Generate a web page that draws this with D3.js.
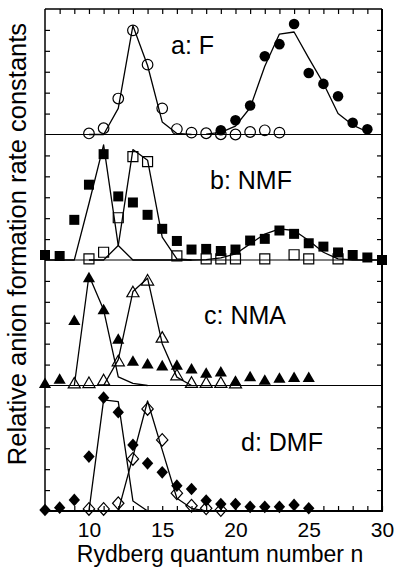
<!DOCTYPE html>
<html>

<head>
  <meta charset="UTF-8">
  <style>
      body {
        margin: 0;
        background: #fff;
      }
      svg {
        display: block;
        font-family: Arial, "Liberation Sans", sans-serif;
      }
  </style>
</head>

<body>
  <script src="https://d3js.org/d3.v7.min.js"></script>
  <script>
    // Rydberg quantum number axis
    var xTickLabels = [10, 15, 20, 25, 30];

    // a: F
    var aOpenN   = [10, 11, 12, 13, 14, 15, 16, 17, 18, 19, 20, 21, 22, 23];
    var aOpen    = [0.05, 0.3, 1.72, 4.98, 3.34, 1.25, 0.26, 0.09, 0.06, 0.01, 0.0, 0.12, 0.2, 0.09];
    var aFilledN = [19, 20, 21, 22, 23, 24, 25, 26, 27, 28, 29];
    var aFilled  = [0.2, 0.68, 1.39, 3.74, 4.32, 5.28, 2.94, 2.42, 1.83, 0.56, 0.25];
    var aFitOpenN   = [10, 11, 12, 13, 14, 15, 16, 17];
    var aFitOpen    = [0, 0, 1.25, 5.2, 3.3, 0.6, 0.05, 0];
    var aFitFilledN = [18, 19, 20, 21, 22, 23, 24, 25, 26, 27, 28, 29];
    var aFitFilled  = [0.02, 0.1, 0.4, 1.28, 3.26, 4.8, 4.9, 3.65, 2.45, 1.0, 0.45, 0.13];

    // b: NMF
    var bFilledN = [7, 8, 9, 10, 11, 12, 13, 14, 15, 16, 17, 18, 19, 20, 21, 22, 23, 24, 25, 26, 27, 28, 29, 30];
    var bFilled  = [0.24, 0.19, 1.92, 3.6, 5.06, 3.04, 2.75, 2.16, 1.49, 0.91, 0.5, 0.53, 0.43, 0.5, 0.93, 1.01, 1.41, 1.25, 0.8, 0.64, 0.36, 0.24, 0.12, 0.0];
    var bOpenN   = [10, 11, 12, 13, 14, 16, 18, 19, 20, 22, 24, 25, 27];
    var bOpen    = [0.05, 0.37, 2.02, 4.94, 4.7, 0.2, 0.05, 0.05, 0.05, 0.05, 0.25, 0.05, 0.05];
    var bFitFilledN = [7, 8, 9, 10, 11, 12, 13, 14, 15, 16, 17, 18, 19, 20, 21, 22, 23, 24, 25, 26, 27, 28, 29, 30];
    var bFitFilled  = [0, 0, 0, 2.7, 5.5, 0.69, 0, 0, 0, 0, 0, 0.02, 0.1, 0.29, 0.77, 1.24, 1.49, 1.41, 0.93, 0.37, 0.05, 0, 0, 0];
    var bFitOpenN   = [10, 11, 12, 13, 14, 15, 16, 17];
    var bFitOpen    = [0, 0, 0.69, 5.28, 4.77, 1.09, 0.05, 0];

    // c: NMA
    var cFilledN = [7, 8, 9, 10, 11, 12, 13, 14, 15, 16, 17, 18, 19, 20, 21, 22, 23, 24, 25];
    var cFilled  = [0.05, 0.25, 3.06, 5.1, 3.57, 2.16, 1.11, 0.98, 0.89, 0.92, 0.74, 0.54, 0.6, 0.16, 0.37, 0.2, 0.3, 0.33, 0.33];
    var cOpenN   = [9, 10, 11, 12, 13, 14, 15, 16, 17, 18, 19, 20];
    var cOpen    = [0.05, 0.07, 0.2, 1.11, 4.41, 4.97, 2.24, 0.44, 0.08, 0.08, 0.08, 0.05];
    var cFitFilledN = [9, 10, 11, 12, 13, 14];
    var cFitFilled  = [0, 5.26, 3.62, 0.41, 0.1, 0];
    var cFitOpenN   = [11, 12, 13, 14, 15, 16, 17];
    var cFitOpen    = [0, 1.24, 4.49, 5.13, 2.0, 0.4, 0];

    // d: DMF
    var dFilledN = [7, 8, 9, 10, 11, 12, 13, 14, 15, 16, 17, 18, 19, 20, 21, 22, 23, 24, 25];
    var dFilled  = [0.05, 0.16, 0.53, 2.6, 5.42, 4.72, 3.16, 2.28, 1.85, 1.21, 1.05, 0.5, 0.33, 0.33, 0.2, 0.2, 0.2, 0.29, 0.13];
    var dOpenN   = [10, 11, 12, 13, 14, 15, 16, 17, 18, 19];
    var dOpen    = [0.1, 0.1, 0.37, 2.49, 4.88, 3.4, 0.85, 0.25, 0.13, 0.05];
    var dFitFilledN = [10, 11, 12, 13, 14];
    var dFitFilled  = [0, 5.31, 5.23, 0.48, 0];
    var dFitOpenN   = [12, 13, 14, 15, 16, 17, 18];
    var dFitOpen    = [0, 2.6, 5.26, 2.92, 0.61, 0.13, 0];

    var W = 397, H = 570;
    var left = 45, right = 382, top0 = 9, panelH = 125.5;

    // wider diamond than d3.symbolDiamond
    var wideDiamond = {
      draw: function(ctx, size) {
        var h = Math.sqrt(size / 1.8), w = h * 0.9;
        ctx.moveTo(0, -h);
        ctx.lineTo(w, 0);
        ctx.lineTo(0, h);
        ctx.lineTo(-w, 0);
        ctx.closePath();
      }
    };

    var panels = [
      {label: "a: F",   lx: 171, ly: 54,  shape: d3.symbolCircle,   size: 88,
       open: [aOpenN, aOpen], filled: [aFilledN, aFilled], fits: [[aFitOpenN, aFitOpen], [aFitFilledN, aFitFilled]]},
      {label: "b: NMF", lx: 210, ly: 189, shape: d3.symbolSquare,   size: 100,
       open: [bOpenN, bOpen], filled: [bFilledN, bFilled], fits: [[bFitOpenN, bFitOpen], [bFitFilledN, bFitFilled]]},
      {label: "c: NMA", lx: 204, ly: 324, shape: d3.symbolTriangle, size: 64,
       open: [cOpenN, cOpen], filled: [cFilledN, cFilled], fits: [[cFitOpenN, cFitOpen], [cFitFilledN, cFitFilled]]},
      {label: "d: DMF", lx: 241, ly: 451, shape: wideDiamond,       size: 72,
       open: [dOpenN, dOpen], filled: [dFilledN, dFilled], fits: [[dFitOpenN, dFitOpen], [dFitFilledN, dFitFilled]]}
    ];

    var svg = d3.select("body").append("svg")
        .attr("width", W)
        .attr("height", H);

    var x = d3.scaleLinear().domain([7, 30]).range([left, right]);

    panels.forEach(function(p, i) {
      var top = top0 + i * panelH;
      var y = d3.scaleLinear().domain([0, 6]).range([top + panelH, top]);
      var g = svg.append("g");

      var pts = function(s) { return s[0].map(function(n, k) { return [n, s[1][k]]; }); };
      var sym = d3.symbol().type(p.shape).size(p.size);

      // open markers
      g.selectAll("path.open").data(pts(p.open)).enter().append("path")
        .attr("class", "open")
        .attr("d", sym)
        .attr("transform", function(d) { return "translate(" + x(d[0]) + "," + y(d[1]) + ")"; })
        .attr("fill", "#fff")
        .attr("stroke", "#000")
        .attr("stroke-width", 1.2);

      // filled markers
      g.selectAll("path.filled").data(pts(p.filled)).enter().append("path")
        .attr("class", "filled")
        .attr("d", sym)
        .attr("transform", function(d) { return "translate(" + x(d[0]) + "," + y(d[1]) + ")"; })
        .attr("fill", "#000");

      // fitted curves
      var line = d3.line().x(function(d) { return x(d[0]); }).y(function(d) { return y(d[1]); });
      p.fits.forEach(function(f) {
        g.append("path")
          .attr("d", line(pts(f)))
          .attr("fill", "none")
          .attr("stroke", "#000")
          .attr("stroke-width", 1.3)
          .attr("stroke-linejoin", "round");
      });

      // ticks on both sides, pointing inward
      g.append("g")
        .attr("transform", "translate(" + left + ",0)")
        .call(d3.axisLeft(y).tickValues([1, 2, 3, 4, 5]).tickSizeInner(-5).tickSizeOuter(0).tickFormat(""))
        .call(function(a) { a.select(".domain").remove(); a.selectAll("line").attr("stroke-width", 1.2); });
      g.append("g")
        .attr("transform", "translate(" + right + ",0)")
        .call(d3.axisRight(y).tickValues([1, 2, 3, 4, 5]).tickSizeInner(-5).tickSizeOuter(0).tickFormat(""))
        .call(function(a) { a.select(".domain").remove(); a.selectAll("line").attr("stroke-width", 1.2); });

      // zero line / panel separator
      g.append("line")
        .attr("x1", left).attr("x2", right)
        .attr("y1", y(0)).attr("y2", y(0))
        .attr("stroke", "#000")
        .attr("stroke-width", 1.2);

      g.append("text")
        .attr("x", p.lx)
        .attr("y", p.ly)
        .attr("font-size", 25)
        .text(p.label);
    });

    var bottom = top0 + 4 * panelH;

    // top ticks
    svg.append("g")
      .attr("transform", "translate(0," + top0 + ")")
      .call(d3.axisTop(x).tickValues(d3.range(8, 30)).tickSizeInner(-5).tickSizeOuter(0).tickFormat(""))
      .call(function(a) { a.select(".domain").remove(); a.selectAll("line").attr("stroke-width", 1.2); });

    // bottom axis
    svg.append("g")
      .attr("transform", "translate(0," + bottom + ")")
      .call(d3.axisBottom(x).tickValues(d3.range(8, 31)).tickSizeInner(-5).tickSizeOuter(0).tickPadding(11)
        .tickFormat(function(d) { return xTickLabels.indexOf(d) >= 0 ? d : ""; }))
      .call(function(a) {
        a.select(".domain").remove();
        a.selectAll("line").attr("stroke-width", 1.2);
        a.selectAll("text").attr("font-size", 21).attr("font-family", null).attr("fill", "#000");
      });

    // frame
    svg.append("line").attr("x1", left).attr("x2", right).attr("y1", top0).attr("y2", top0)
      .attr("stroke", "#000").attr("stroke-width", 1.5);
    svg.append("line").attr("x1", left - 1).attr("x2", right + 1).attr("y1", bottom).attr("y2", bottom)
      .attr("stroke", "#000").attr("stroke-width", 2);
    svg.append("line").attr("x1", left).attr("x2", left).attr("y1", top0).attr("y2", bottom)
      .attr("stroke", "#000").attr("stroke-width", 1.5);
    svg.append("line").attr("x1", right).attr("x2", right).attr("y1", top0).attr("y2", bottom)
      .attr("stroke", "#000").attr("stroke-width", 2);

    svg.append("text")
      .attr("x", 220)
      .attr("y", 562)
      .attr("text-anchor", "middle")
      .attr("font-size", 23)
      .text("Rydberg quantum number n");

    svg.append("text")
      .attr("transform", "translate(26,244) rotate(-90)")
      .attr("text-anchor", "middle")
      .attr("font-size", 25.5)
      .text("Relative anion formation rate constants");
  </script>
</body>

</html>
